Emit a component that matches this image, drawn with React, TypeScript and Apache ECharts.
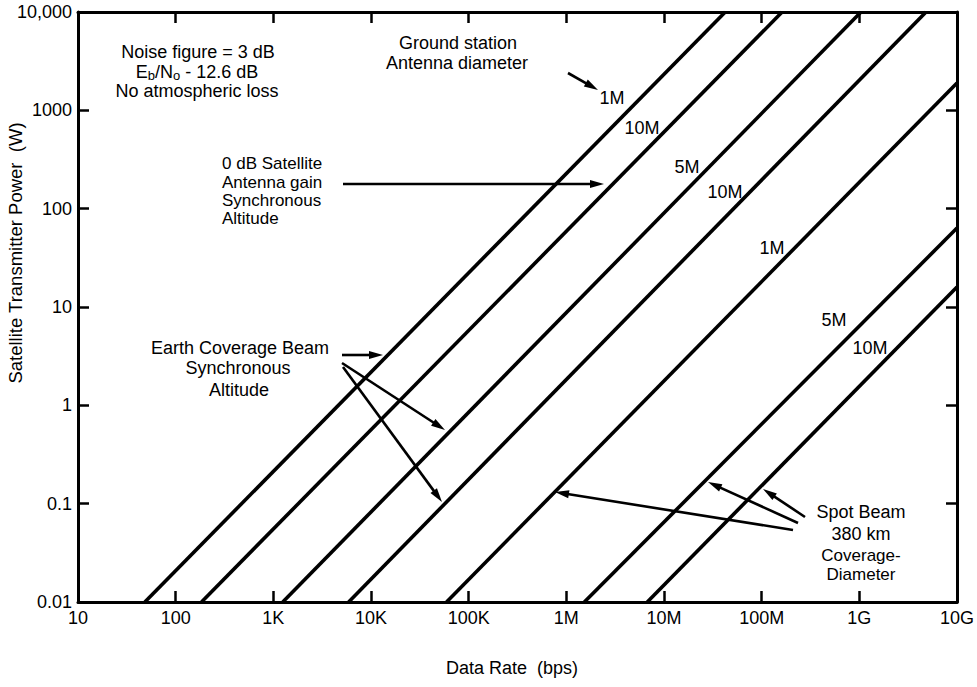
import React, { useEffect, useRef } from "react";
import * as echarts from "echarts";

// ---- data ----
const xTickLabels = ["10", "100", "1K", "10K", "100K", "1M", "10M", "100M", "1G", "10G"];
const yTickLabels = ["0.01", "0.1", "1", "10", "100", "1000", "10,000"];

// each line: start (data rate where power = 0.01 W) and end point (top or right edge)
const lineNames = [
  "0 dB gain, 1M",
  "0 dB gain, 10M",
  "Earth coverage, 5M",
  "Earth coverage, 10M",
  "Spot beam, 1M",
  "Spot beam, 5M",
  "Spot beam, 10M",
];
const startRates = [48.4, 184, 1250, 5910, 59400, 1.53e6, 6.75e6];
const startPowers = [0.01, 0.01, 0.01, 0.01, 0.01, 0.01, 0.01];
const endRates = [4.24e7, 1.62e8, 1.04e9, 4.82e9, 1e10, 1e10, 1e10];
const endPowers = [10000, 10000, 10000, 10000, 1897, 63.5, 16.0];
const lineLabels = ["1M", "10M", "5M", "10M", "1M", "5M", "10M"];

const FONT = '"Liberation Sans", Arial, Helvetica, sans-serif';

function txt(text: string, x: number, y: number, align: string = "center", size: number = 18, rotation = 0) {
  return {
    type: "text",
    x,
    y,
    rotation,
    silent: true,
    style: {
      text,
      fill: "#000",
      fontSize: size,
      fontFamily: FONT,
      lineHeight: 16,
      align,
      verticalAlign: "middle",
      textAlign: align,
      textVerticalAlign: "middle",
    },
  };
}

function arrow(x1: number, y1: number, x2: number, y2: number) {
  const dx = x2 - x1;
  const dy = y2 - y1;
  const len = Math.hypot(dx, dy);
  const ux = dx / len;
  const uy = dy / len;
  const L = 14;
  const W = 4;
  const bx = x2 - ux * L;
  const by = y2 - uy * L;
  return [
    {
      type: "line",
      silent: true,
      shape: { x1, y1, x2: bx + ux * 3, y2: by + uy * 3 },
      style: { stroke: "#000", lineWidth: 2.6 },
    },
    {
      type: "polygon",
      silent: true,
      shape: {
        points: [
          [x2, y2],
          [bx - uy * W, by + ux * W],
          [bx + uy * W, by - ux * W],
        ],
      },
      style: { fill: "#000" },
    },
  ];
}

export default function App() {
  const ref = useRef<HTMLDivElement>(null);

  useEffect(() => {
    if (!ref.current) return;
    const chart = echarts.init(ref.current, null, { renderer: "svg" });

    const axisLine = { show: true, lineStyle: { color: "#000", width: 3 } };
    const axisTick = { show: true, inside: true, length: 11, lineStyle: { color: "#000", width: 2.5 } };

    const xFmt = (v: number) => xTickLabels[Math.round(Math.log10(v)) - 1] ?? "";
    const yFmt = (v: number) => yTickLabels[Math.round(Math.log10(v)) + 2] ?? "";

    const series = lineNames.map((name, i) => ({
      name,
      type: "line",
      xAxisIndex: 0,
      yAxisIndex: 0,
      symbol: "none",
      silent: true,
      clip: true,
      lineStyle: { color: "#000", width: 3.6 },
      data: [
        [startRates[i], startPowers[i]],
        [endRates[i], endPowers[i]],
      ],
    }));

    const labelPos: [number, number][] = [
      [612, 98],
      [642, 128],
      [687, 167],
      [725, 192],
      [772, 248],
      [834, 320],
      [870, 348],
    ];

    const eb = {
      type: "text",
      x: 197,
      y: 72,
      silent: true,
      style: {
        text: "{a|E}{b|b}{a|/N}{b|o}{a| - 12.6 dB}",
        fill: "#000",
        align: "center",
        verticalAlign: "middle",
        textAlign: "center",
        textVerticalAlign: "middle",
        rich: {
          a: { fontSize: 18, fontFamily: FONT, fill: "#000", lineHeight: 19 },
          b: { fontSize: 13, fontFamily: FONT, fill: "#000", verticalAlign: "bottom", lineHeight: 11 },
        },
      },
    };

    const graphics: any[] = [
      txt("Noise figure = 3 dB", 198, 52),
      eb,
      txt("No atmospheric loss", 197, 91),
      txt("Ground station", 458, 43),
      txt("Antenna diameter", 457, 63),
      txt("0 dB Satellite", 222, 163, "left", 17),
      txt("Antenna gain", 222, 182, "left", 17),
      txt("Synchronous", 222, 200, "left", 17),
      txt("Altitude", 222, 218, "left", 17),
      txt("Earth Coverage Beam", 240, 348),
      txt("Synchronous", 238, 368),
      txt("Altitude", 239, 390),
      txt("Spot Beam", 861, 512),
      txt("380 km", 861, 534),
      txt("Coverage-", 861, 555, "center", 17),
      txt("Diameter", 861, 574, "center", 17),
      txt("Data Rate  (bps)", 512, 668),
      txt("Satellite Transmitter Power  (W)", 15, 253, "center", 18.5, Math.PI / 2),
      ...lineLabels.map((l, i) => txt(l, labelPos[i][0], labelPos[i][1])),
      ...arrow(568, 73, 598, 90),
      ...arrow(343, 184, 604, 184),
      ...arrow(342, 355, 383, 355),
      ...arrow(342, 363, 445, 430),
      ...arrow(343, 367, 442, 502),
      ...arrow(793, 530, 555, 492),
      ...arrow(798, 523, 708, 482),
      ...arrow(805, 517, 763, 489),
    ];

    chart.setOption({
      animation: false,
      backgroundColor: "#fff",
      grid: { left: 78, right: 19, top: 12, bottom: 85, containLabel: false },
      xAxis: [
        {
          type: "log",
          logBase: 10,
          min: 10,
          max: 1e10,
          splitNumber: 9,
          position: "bottom",
          axisLine,
          axisTick,
          splitLine: { show: false },
          minorTick: { show: false },
          axisLabel: { formatter: xFmt, color: "#000", fontSize: 18, fontFamily: FONT, margin: 7 },
        },
        {
          type: "log",
          logBase: 10,
          min: 10,
          max: 1e10,
          splitNumber: 9,
          position: "top",
          axisLine,
          axisTick,
          splitLine: { show: false },
          axisLabel: { show: false },
        },
      ],
      yAxis: [
        {
          type: "log",
          logBase: 10,
          min: 0.01,
          max: 10000,
          splitNumber: 6,
          position: "left",
          axisLine,
          axisTick,
          splitLine: { show: false },
          minorTick: { show: false },
          axisLabel: { formatter: yFmt, color: "#000", fontSize: 18, fontFamily: FONT, margin: 6 },
        },
        {
          type: "log",
          logBase: 10,
          min: 0.01,
          max: 10000,
          splitNumber: 6,
          position: "right",
          axisLine,
          axisTick,
          splitLine: { show: false },
          axisLabel: { show: false },
        },
      ],
      series,
      graphic: graphics,
    });

    return () => chart.dispose();
  }, []);

  return (
    <div
      ref={ref}
      style={{ position: "fixed", left: 0, top: 0, width: 977, height: 687, background: "#fff" }}
    />
  );
}
